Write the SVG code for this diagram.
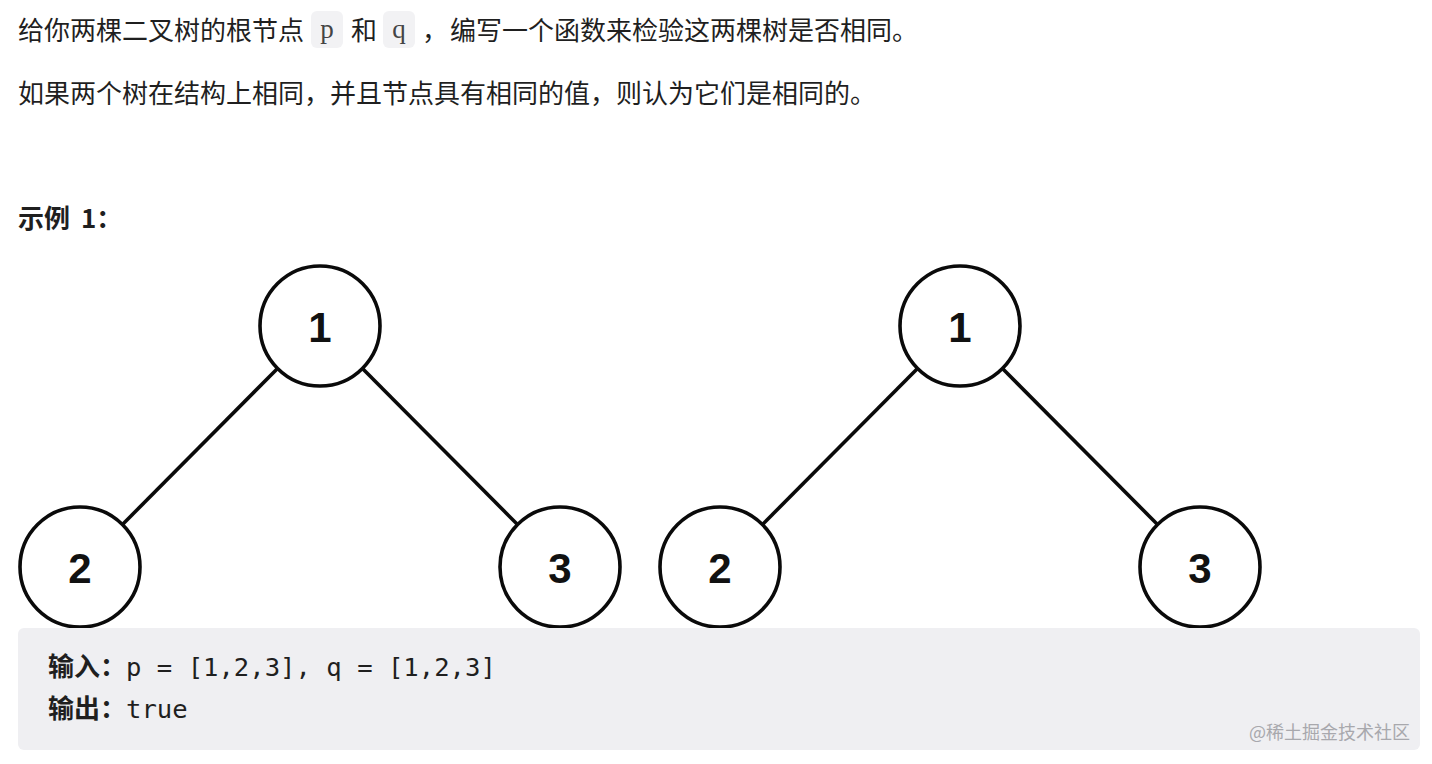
<svg xmlns="http://www.w3.org/2000/svg" width="1432" height="764" viewBox="0 0 1432 764">
  <style>
    .cn { font-family: "Noto Sans CJK SC", "Noto Sans", sans-serif; font-size: 26px; fill: #1f1f1f; }
    .b { font-weight: bold; }
    .code { font-family: "Liberation Serif", "Noto Sans CJK SC", serif; font-size: 27px; fill: #444; }
    .mono { font-family: "DejaVu Sans Mono", monospace; font-size: 25.6px; fill: #1f1f1f; }
    .chip { fill: #f2f2f4; }
    .node circle { fill: #fff; stroke: #0a0a0a; stroke-width: 3.6; }
    .node text { font-family: "Liberation Sans", Arial, sans-serif; font-weight: bold; font-size: 42px; fill: #111; text-anchor: middle; }
    .edges line { stroke: #0a0a0a; stroke-width: 3.6; }
    .wm { font-family: "Noto Sans CJK SC", sans-serif; font-size: 18px; fill: #a8a8ad; }
  </style>
  <rect width="1432" height="764" fill="#fff"/>

  <!-- intro text -->
  <text class="cn" x="18" y="40">给你两棵二叉树的根节点</text>
  <rect class="chip" x="311" y="11" width="32" height="37" rx="6"/>
  <text class="code" x="327" y="38" text-anchor="middle">p</text>
  <text class="cn" x="351" y="40">和</text>
  <rect class="chip" x="383" y="11" width="32" height="37" rx="6"/>
  <text class="code" x="399" y="38" text-anchor="middle">q</text>
  <text class="cn" x="422" y="40">，</text>
  <text class="cn" x="450" y="40">编写一个函数来检验这两棵树是否相同。</text>
  <text class="cn" x="18" y="103">如果两个树在结构上相同，并且节点具有相同的值，则认为它们是相同的。</text>
  <text class="cn b" x="18" y="228">示例</text>
  <text class="cn b" x="81" y="228">1：</text>

  <!-- connectors -->
  <g id="edges" class="edges">
    <line x1="277" y1="369" x2="123" y2="524"/>
    <line x1="363" y1="369" x2="517" y2="524"/>
    <line x1="917" y1="369" x2="763" y2="524"/>
    <line x1="1003" y1="369" x2="1157" y2="524"/>
  </g>

  <!-- tree p -->
  <g id="p1" class="node"><circle cx="320" cy="326" r="60"/><text x="320" y="342">1</text></g>
  <g id="p2" class="node"><circle cx="80" cy="567" r="60"/><text x="80" y="583">2</text></g>
  <g id="p3" class="node"><circle cx="560" cy="567" r="60"/><text x="560" y="583">3</text></g>
  <!-- tree q -->
  <g id="q1" class="node"><circle cx="960" cy="326" r="60"/><text x="960" y="342">1</text></g>
  <g id="q2" class="node"><circle cx="720" cy="567" r="60"/><text x="720" y="583">2</text></g>
  <g id="q3" class="node"><circle cx="1200" cy="567" r="60"/><text x="1200" y="583">3</text></g>

  <!-- example box -->
  <rect x="18" y="628" width="1402" height="122" rx="6" fill="#efeff2"/>
  <text class="cn b" x="48" y="676">输入：</text>
  <text class="mono" x="126" y="676">p = [1,2,3], q = [1,2,3]</text>
  <text class="cn b" x="48" y="718">输出：</text>
  <text class="mono" x="126" y="718">true</text>
  <text class="wm" x="1410" y="739" text-anchor="end">@稀土掘金技术社区</text>
</svg>
